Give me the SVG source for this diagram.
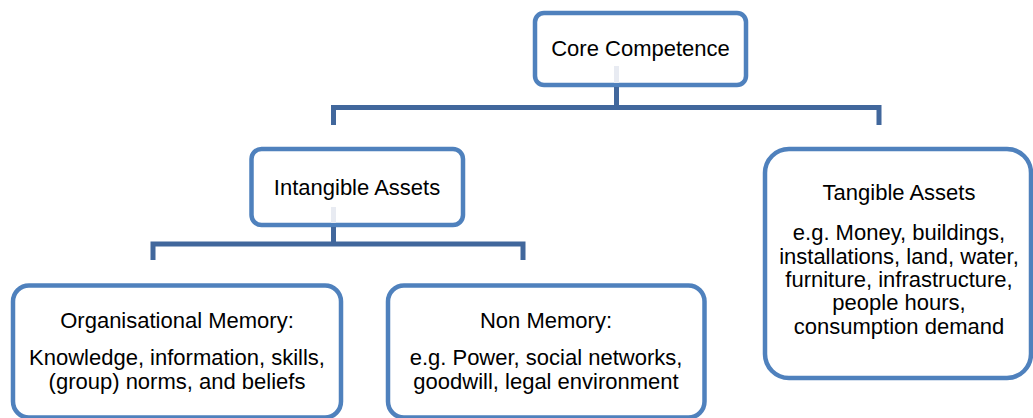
<svg xmlns="http://www.w3.org/2000/svg" width="1033" height="418" viewBox="0 0 1033 418">
<style>
.box{fill:#ffffff;stroke:#4F81BD;stroke-width:4.5}
.con{fill:none;stroke:#41679C;stroke-width:5;stroke-linejoin:miter}
.stub{fill:none;stroke:#E8EBF2;stroke-width:5}
text{font-family:"Liberation Sans",Arial,sans-serif;font-size:22px;fill:#000000;text-anchor:middle}
</style>
<rect width="1033" height="418" fill="#ffffff"/>
<g id="core">
<rect class="box" x="535" y="13" width="211" height="72" rx="9"/>
<text x="640.5" y="56">Core Competence</text>
</g>
<g id="intangible">
<rect class="box" x="251.5" y="149" width="211.5" height="76" rx="10"/>
<text x="357" y="195">Intangible Assets</text>
</g>
<g id="tangible">
<rect class="box" x="765" y="149" width="266" height="229" rx="24"/>
<text x="899" y="200">Tangible Assets</text>
<text x="899" y="240">e.g. Money, buildings,</text>
<text x="899" y="264">installations, land, water,</text>
<text x="899" y="287">furniture, infrastructure,</text>
<text x="899" y="310">people hours,</text>
<text x="899" y="334">consumption demand</text>
</g>
<g id="orgmemory">
<rect class="box" x="13" y="285.5" width="328" height="132" rx="16"/>
<text x="177" y="328">Organisational Memory:</text>
<text x="177" y="365">Knowledge, information, skills,</text>
<text x="177" y="389">(group) norms, and beliefs</text>
</g>
<g id="nonmemory">
<rect class="box" x="388" y="285.5" width="316.5" height="132" rx="16"/>
<text x="546" y="328">Non Memory:</text>
<text x="546" y="365">e.g. Power, social networks,</text>
<text x="546" y="389">goodwill, legal environment</text>
</g>
<g id="connectors">
<line class="stub" x1="616.5" y1="66" x2="616.5" y2="83"/>
<line class="stub" x1="333.5" y1="207" x2="333.5" y2="223"/>
<path class="con" d="M616.5 87 V107.5"/>
<path class="con" d="M333.5 125 V107.5 H879 V125"/>
<path class="con" d="M333.5 227 V244"/>
<path class="con" d="M153 260 V244 H523 V260"/>
</g>
</svg>
